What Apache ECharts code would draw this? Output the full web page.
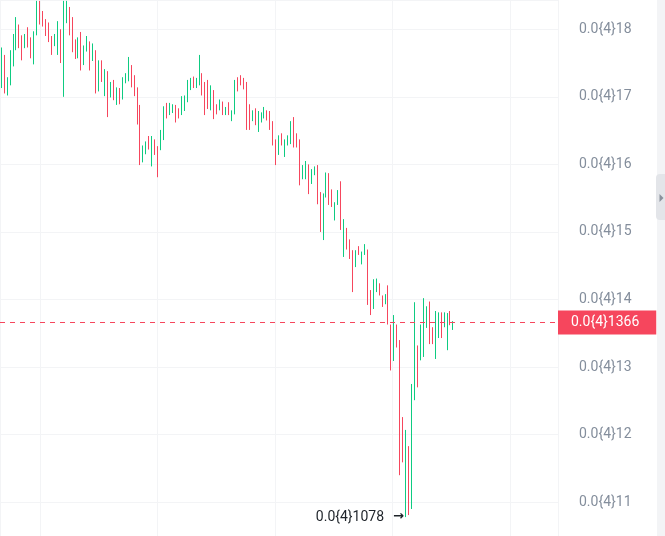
<!DOCTYPE html>
<html><head><meta charset="utf-8">
<script src="https://cdn.jsdelivr.net/npm/echarts@6/dist/echarts.min.js"></script>
<style>html,body{margin:0;padding:0;background:#fff}#c{width:665px;height:536px}</style>
</head><body><div id="c"></div>
<script>
// Prices in units of 1e-6 (shown as 0.0{4}xx)
const open = [17.13,17.62,17.02,17.17,17.45,17.69,18.07,17.91,17.72,18.03,17.88,17.48,17.91,18.42,18.27,18.15,18.10,17.90,17.75,17.62,
18.00,17.00,18.09,18.33,18.18,17.85,17.57,17.96,17.47,17.67,17.82,17.53,17.69,17.08,17.54,17.01,17.38,16.99,17.25,16.88,
17.13,16.96,17.20,17.23,17.47,17.32,17.14,16.88,16.03,16.15,16.42,15.97,16.37,16.27,16.21,16.36,16.91,16.73,16.76,16.88,
16.83,16.73,16.79,16.92,17.10,17.30,17.13,17.17,17.35,17.22,17.25,16.80,17.10,16.89,16.80,16.93,16.73,16.92,16.64,16.74,
17.29,17.32,17.28,17.22,16.89,16.64,16.83,16.48,16.62,16.68,16.80,16.79,16.64,16.37,16.14,16.46,16.11,16.28,16.30,16.70,
16.46,16.37,15.78,15.78,16.00,15.71,15.84,15.99,15.59,14.88,15.51,15.87,15.63,15.17,15.40,15.75,14.63,15.06,14.89,14.73,
14.48,14.79,14.52,14.66,14.74,14.14,13.86,14.11,14.24,14.06,13.93,14.21,13.63,13.09,13.63,13.40,12.26,10.80,11.83,10.90,
12.51,13.32,13.10,13.15,13.58,13.97,13.59,13.12,13.43,13.81,13.59,13.25,13.83,13.55];
const close = [17.73,17.05,17.29,17.69,17.93,18.18,17.72,17.54,17.93,17.73,17.57,17.97,18.42,18.07,18.04,17.90,17.81,17.62,17.93,18.12,
17.50,18.42,18.42,17.91,17.66,17.56,17.88,17.39,17.76,17.90,17.39,17.79,17.05,17.54,17.22,17.41,16.70,17.22,16.95,17.14,
16.89,17.29,17.35,17.59,17.14,17.01,16.59,15.99,16.28,16.34,16.22,16.42,16.14,15.81,16.51,16.86,16.68,16.91,16.89,16.62,
16.68,17.01,17.02,17.25,17.28,17.13,17.28,17.62,17.02,16.73,16.82,17.17,16.67,16.74,16.96,16.73,16.85,16.73,16.80,17.25,
17.08,17.17,17.11,16.51,16.51,16.80,16.58,16.79,16.77,16.85,16.65,16.51,16.28,15.99,16.43,16.28,16.37,16.43,16.64,16.25,
16.25,15.69,15.99,16.05,15.56,15.93,15.97,15.41,15.00,15.57,15.88,15.40,15.37,15.44,15.62,15.03,15.19,14.74,14.60,14.11,
14.73,14.66,14.71,14.82,13.92,13.77,14.30,14.31,14.06,13.89,14.08,13.63,12.95,13.77,13.29,11.40,11.59,12.07,10.96,12.75,
13.96,12.70,13.63,14.02,13.90,13.34,13.34,13.83,13.81,13.43,13.81,13.80,13.62,13.66];
const high = [17.73,17.62,17.29,17.69,17.93,18.18,18.07,17.91,17.93,18.03,17.88,17.97,18.42,18.42,18.27,18.15,18.10,17.90,17.93,18.12,
18.00,18.42,18.42,18.33,18.18,17.85,17.88,17.96,17.76,17.90,17.82,17.79,17.69,17.54,17.54,17.41,17.38,17.22,17.25,17.14,
17.13,17.29,17.35,17.59,17.47,17.32,17.14,16.88,16.28,16.34,16.42,16.42,16.37,16.27,16.51,16.86,16.91,16.91,16.89,16.88,
16.83,17.01,17.02,17.25,17.28,17.30,17.28,17.62,17.35,17.22,17.25,17.17,17.10,16.89,16.96,16.93,16.85,16.92,16.80,17.25,
17.29,17.32,17.28,17.22,16.89,16.80,16.83,16.79,16.77,16.85,16.80,16.79,16.64,16.37,16.43,16.46,16.37,16.43,16.64,16.70,
16.46,16.37,15.99,16.05,16.00,15.93,15.97,15.99,15.59,15.57,15.88,15.87,15.63,15.44,15.62,15.75,15.19,15.06,14.89,14.73,
14.73,14.79,14.71,14.82,14.74,14.14,14.30,14.31,14.24,14.06,14.08,14.21,13.63,13.77,13.63,13.40,12.26,12.07,11.83,12.75,
13.96,13.32,13.63,14.02,13.90,13.97,13.59,13.83,13.81,13.81,13.81,13.80,13.83,13.68];
const low = [17.13,17.05,17.02,17.17,17.45,17.69,17.72,17.54,17.72,17.73,17.57,17.48,17.91,18.07,18.04,17.90,17.81,17.62,17.75,17.62,
17.50,17.00,18.09,17.91,17.66,17.56,17.57,17.39,17.47,17.67,17.39,17.53,17.05,17.08,17.22,17.01,16.70,16.99,16.95,16.88,
16.89,16.96,17.20,17.23,17.14,17.01,16.59,15.99,16.03,16.15,16.22,15.97,16.14,15.81,16.21,16.36,16.68,16.73,16.76,16.62,
16.68,16.73,16.79,16.92,17.10,17.13,17.13,17.17,17.02,16.73,16.82,16.80,16.67,16.74,16.80,16.73,16.73,16.73,16.64,16.74,
17.08,17.17,17.11,16.51,16.51,16.64,16.58,16.48,16.62,16.68,16.65,16.51,16.28,15.99,16.14,16.28,16.11,16.28,16.30,16.25,
16.25,15.69,15.78,15.78,15.56,15.71,15.84,15.41,15.00,14.88,15.51,15.40,15.37,15.17,15.40,15.03,14.63,14.74,14.60,14.11,
14.48,14.66,14.52,14.66,13.92,13.77,13.86,14.11,14.06,13.89,13.93,13.63,12.95,13.09,13.29,11.40,11.59,10.78,10.81,10.90,
12.51,12.70,13.10,13.15,13.58,13.34,13.34,13.12,13.43,13.43,13.59,13.25,13.62,13.55];
const slotCount = 189;
const categories = Array.from({length: slotCount}, (_, i) => 'T' + i);
const tickLabels = ['0.0{4}11','0.0{4}12','0.0{4}13','0.0{4}14','0.0{4}15','0.0{4}16','0.0{4}17','0.0{4}18'];

const UP = '#0ECB81', DOWN = '#F6465D', GRID = '#f3f4f6', AXIS_TXT = '#848E9C';
const FONT = 'Roboto, "Noto Sans", sans-serif';
const fmt = v => '0.0{4}' + String(+(+v).toFixed(4)).replace('.', '');

const lastPrice = close[close.length - 1];
let lowIdx = 0;
low.forEach((v, i) => { if (v < low[lowIdx]) lowIdx = i; });

const chart = echarts.init(document.getElementById('c'), null, {renderer: 'canvas'});
chart.setOption({
  animation: false,
  backgroundColor: '#ffffff',
  color: [DOWN],
  grid: {left: 0, right: 107, top: 0, bottom: 0},
  xAxis: [
    {type: 'category', data: categories, boundaryGap: true,
     axisLine: {show: false}, axisTick: {show: false}, axisLabel: {show: false}, splitLine: {show: false}},
    {type: 'value', min: -40 / 117.5, max: 518 / 117.5, splitNumber: 5,
     axisLine: {show: false}, axisTick: {show: false}, axisLabel: {show: false},
     splitLine: {show: true, lineStyle: {color: GRID, width: 1}}}
  ],
  yAxis: {
    type: 'value', position: 'right', min: 10.5, max: 18.433, splitNumber: 8,
    axisLine: {show: true, lineStyle: {color: GRID}},
    axisTick: {show: true, length: 8, lineStyle: {color: GRID}},
    axisLabel: {
      margin: 21, color: AXIS_TXT, fontSize: 14, fontFamily: FONT,
      showMinLabel: false, showMaxLabel: false,
      formatter: v => {
        const r = Math.round(v);
        if (Math.abs(v - r) > 1e-6) return '';
        return tickLabels[r - 11] || fmt(v);
      }
    },
    splitLine: {show: true, lineStyle: {color: GRID, width: 1}}
  },
  series: [{
    type: 'candlestick', xAxisIndex: 0, yAxisIndex: 0, clip: true,
    data: open.map((o, i) => [o, close[i], low[i], high[i]]),
    barWidth: 1,
    itemStyle: {color: UP, color0: DOWN, borderColor: UP, borderColor0: DOWN, borderWidth: 1},
    markPoint: {
      symbol: 'circle', symbolSize: 0, silent: true, animation: false,
      label: {show: true, position: 'left', distance: 2,
        formatter: p => fmt(p.value) + '{a|\u2192}',
        color: '#1E2329', fontSize: 14, fontFamily: FONT,
        rich: {a: {fontFamily: '"DejaVu Sans", sans-serif', fontSize: 13, color: '#1E2329', fontWeight: 'bold', padding: [0, 0, 0, 9]}}},
      data: [{coord: [lowIdx, low[lowIdx]], value: low[lowIdx]}]
    }
  }, {
    type: 'line', name: 'last', xAxisIndex: 0, yAxisIndex: 0, data: [], color: DOWN,
    lineStyle: {color: DOWN}, itemStyle: {color: DOWN}, showSymbol: false, silent: true,
    markLine: {
      silent: true, symbol: ['none', 'none'], animation: false,
      lineStyle: {color: DOWN, type: [5, 5], width: 1, opacity: 1},
      label: {show: true, position: 'end', distance: 0, formatter: p => fmt(p.value),
        color: '#ffffff', backgroundColor: DOWN, padding: [5, 17, 5, 13], fontSize: 14, fontFamily: FONT},
      data: [{yAxis: lastPrice}]
    }
  }],
  graphic: [
    {type: 'rect', left: 657, top: 0, shape: {width: 8, height: 536}, style: {fill: '#f3f4f6'}, silent: true},
    {type: 'rect', left: 656, top: 174, shape: {width: 12, height: 46, r: 4}, style: {fill: '#e3e5e9'}, silent: true},
    {type: 'polygon', shape: {points: [[659.5, 194], [663.5, 198], [659.5, 202]]}, style: {fill: '#8a919c'}, silent: true}
  ]
});
</script></body></html>
